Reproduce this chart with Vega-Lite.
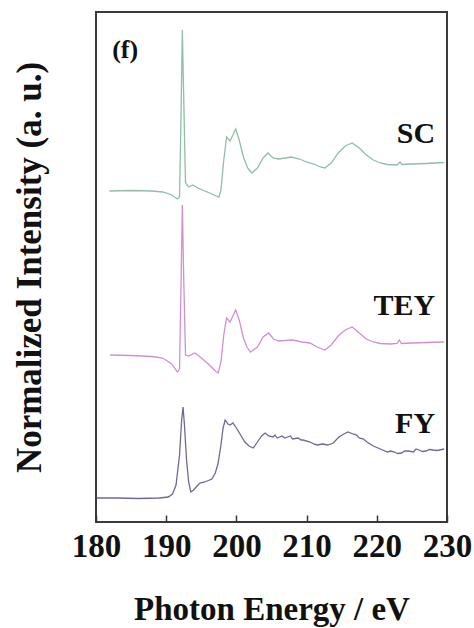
{
  "$schema": "https://vega.github.io/schema/vega-lite/v6.json",
  "width": 351,
  "height": 510,
  "autosize": {"type": "none"},
  "padding": {"left": 96, "top": 12, "right": 27, "bottom": 106},
  "background": "white",
  "config": {
    "view": {"stroke": "#3a3a3a", "strokeWidth": 2},
    "font": "Liberation Serif"
  },
  "datasets": {
    "spectra": [
      {"series": "SC", "energy": 181.9, "intensity": 331},
      {"series": "SC", "energy": 185, "intensity": 331.5},
      {"series": "SC", "energy": 188, "intensity": 331},
      {"series": "SC", "energy": 189.5, "intensity": 330},
      {"series": "SC", "energy": 190.8, "intensity": 327},
      {"series": "SC", "energy": 191.6, "intensity": 323},
      {"series": "SC", "energy": 191.9, "intensity": 325},
      {"series": "SC", "energy": 192.1, "intensity": 402},
      {"series": "SC", "energy": 192.3, "intensity": 492},
      {"series": "SC", "energy": 192.5, "intensity": 422},
      {"series": "SC", "energy": 192.75, "intensity": 339},
      {"series": "SC", "energy": 193.2, "intensity": 335},
      {"series": "SC", "energy": 193.8, "intensity": 337},
      {"series": "SC", "energy": 194.5, "intensity": 334},
      {"series": "SC", "energy": 195.5, "intensity": 331},
      {"series": "SC", "energy": 196.5, "intensity": 328},
      {"series": "SC", "energy": 197.5, "intensity": 325},
      {"series": "SC", "energy": 197.8, "intensity": 332},
      {"series": "SC", "energy": 198.2, "intensity": 362},
      {"series": "SC", "energy": 198.6, "intensity": 385},
      {"series": "SC", "energy": 199.1, "intensity": 381},
      {"series": "SC", "energy": 199.5, "intensity": 387},
      {"series": "SC", "energy": 199.9, "intensity": 393},
      {"series": "SC", "energy": 200.4, "intensity": 382},
      {"series": "SC", "energy": 201, "intensity": 365},
      {"series": "SC", "energy": 201.6, "intensity": 354},
      {"series": "SC", "energy": 202.2, "intensity": 349},
      {"series": "SC", "energy": 203, "intensity": 354},
      {"series": "SC", "energy": 203.8, "intensity": 364},
      {"series": "SC", "energy": 204.5, "intensity": 369},
      {"series": "SC", "energy": 205.2, "intensity": 364},
      {"series": "SC", "energy": 206, "intensity": 363},
      {"series": "SC", "energy": 207, "intensity": 364},
      {"series": "SC", "energy": 207.8, "intensity": 365},
      {"series": "SC", "energy": 209, "intensity": 363},
      {"series": "SC", "energy": 210, "intensity": 360},
      {"series": "SC", "energy": 211, "intensity": 358},
      {"series": "SC", "energy": 212, "intensity": 355},
      {"series": "SC", "energy": 212.6, "intensity": 354},
      {"series": "SC", "energy": 213.5, "intensity": 359},
      {"series": "SC", "energy": 214.5, "intensity": 369},
      {"series": "SC", "energy": 215.5, "intensity": 376},
      {"series": "SC", "energy": 216.5, "intensity": 379},
      {"series": "SC", "energy": 217.5, "intensity": 374},
      {"series": "SC", "energy": 218.5, "intensity": 367},
      {"series": "SC", "energy": 219.5, "intensity": 362},
      {"series": "SC", "energy": 220.5, "intensity": 359},
      {"series": "SC", "energy": 221.5, "intensity": 357.5},
      {"series": "SC", "energy": 222.9, "intensity": 357},
      {"series": "SC", "energy": 223.3, "intensity": 360},
      {"series": "SC", "energy": 223.6, "intensity": 357.5},
      {"series": "SC", "energy": 225, "intensity": 358},
      {"series": "SC", "energy": 227, "intensity": 358.5},
      {"series": "SC", "energy": 229.6, "intensity": 359.5},

      {"series": "TEY", "energy": 182, "intensity": 167},
      {"series": "TEY", "energy": 185, "intensity": 166.5},
      {"series": "TEY", "energy": 188, "intensity": 165.5},
      {"series": "TEY", "energy": 189.5, "intensity": 164},
      {"series": "TEY", "energy": 190.8, "intensity": 158},
      {"series": "TEY", "energy": 191.6, "intensity": 150},
      {"series": "TEY", "energy": 191.9, "intensity": 153},
      {"series": "TEY", "energy": 192.1, "intensity": 232},
      {"series": "TEY", "energy": 192.3, "intensity": 317},
      {"series": "TEY", "energy": 192.5, "intensity": 242},
      {"series": "TEY", "energy": 192.75, "intensity": 167},
      {"series": "TEY", "energy": 193.2, "intensity": 166},
      {"series": "TEY", "energy": 194.1, "intensity": 169},
      {"series": "TEY", "energy": 195, "intensity": 164},
      {"series": "TEY", "energy": 196, "intensity": 158},
      {"series": "TEY", "energy": 197, "intensity": 151},
      {"series": "TEY", "energy": 197.4, "intensity": 149},
      {"series": "TEY", "energy": 197.8, "intensity": 160},
      {"series": "TEY", "energy": 198.2, "intensity": 187},
      {"series": "TEY", "energy": 198.6, "intensity": 204},
      {"series": "TEY", "energy": 199.1, "intensity": 200},
      {"series": "TEY", "energy": 199.5, "intensity": 206},
      {"series": "TEY", "energy": 199.9, "intensity": 212},
      {"series": "TEY", "energy": 200.4, "intensity": 202},
      {"series": "TEY", "energy": 201, "intensity": 184},
      {"series": "TEY", "energy": 201.5, "intensity": 175},
      {"series": "TEY", "energy": 202, "intensity": 170},
      {"series": "TEY", "energy": 203, "intensity": 175},
      {"series": "TEY", "energy": 203.8, "intensity": 185},
      {"series": "TEY", "energy": 204.6, "intensity": 189},
      {"series": "TEY", "energy": 205.3, "intensity": 183},
      {"series": "TEY", "energy": 206, "intensity": 181},
      {"series": "TEY", "energy": 207, "intensity": 181.5},
      {"series": "TEY", "energy": 208, "intensity": 182},
      {"series": "TEY", "energy": 209.3, "intensity": 180},
      {"series": "TEY", "energy": 210.5, "intensity": 179},
      {"series": "TEY", "energy": 211.5, "intensity": 175},
      {"series": "TEY", "energy": 212.6, "intensity": 172},
      {"series": "TEY", "energy": 213.5, "intensity": 177},
      {"series": "TEY", "energy": 214.5, "intensity": 186},
      {"series": "TEY", "energy": 215.5, "intensity": 192},
      {"series": "TEY", "energy": 216.5, "intensity": 195},
      {"series": "TEY", "energy": 217.5, "intensity": 189},
      {"series": "TEY", "energy": 218.5, "intensity": 183},
      {"series": "TEY", "energy": 219.5, "intensity": 180},
      {"series": "TEY", "energy": 220.5, "intensity": 178.5},
      {"series": "TEY", "energy": 222, "intensity": 178},
      {"series": "TEY", "energy": 222.9, "intensity": 178.5},
      {"series": "TEY", "energy": 223.2, "intensity": 182},
      {"series": "TEY", "energy": 223.5, "intensity": 178.5},
      {"series": "TEY", "energy": 225, "intensity": 179},
      {"series": "TEY", "energy": 227, "intensity": 179.5},
      {"series": "TEY", "energy": 229.6, "intensity": 180},

      {"series": "FY", "energy": 180.1, "intensity": 24},
      {"series": "FY", "energy": 183, "intensity": 24},
      {"series": "FY", "energy": 186, "intensity": 23.5},
      {"series": "FY", "energy": 189, "intensity": 24},
      {"series": "FY", "energy": 190.3, "intensity": 25},
      {"series": "FY", "energy": 190.9, "intensity": 28},
      {"series": "FY", "energy": 191.4, "intensity": 37},
      {"series": "FY", "energy": 191.9, "intensity": 67},
      {"series": "FY", "energy": 192.2, "intensity": 102},
      {"series": "FY", "energy": 192.4, "intensity": 115},
      {"series": "FY", "energy": 192.6, "intensity": 97},
      {"series": "FY", "energy": 192.9, "intensity": 62},
      {"series": "FY", "energy": 193.2, "intensity": 40},
      {"series": "FY", "energy": 193.5, "intensity": 30},
      {"series": "FY", "energy": 193.9, "intensity": 32},
      {"series": "FY", "energy": 194.4, "intensity": 36},
      {"series": "FY", "energy": 194.8, "intensity": 39},
      {"series": "FY", "energy": 195.5, "intensity": 40},
      {"series": "FY", "energy": 196.5, "intensity": 43},
      {"series": "FY", "energy": 197, "intensity": 49},
      {"series": "FY", "energy": 197.4, "intensity": 59},
      {"series": "FY", "energy": 197.8, "intensity": 77},
      {"series": "FY", "energy": 198.1, "intensity": 94},
      {"series": "FY", "energy": 198.4, "intensity": 102},
      {"series": "FY", "energy": 198.8, "intensity": 98},
      {"series": "FY", "energy": 199.1, "intensity": 97},
      {"series": "FY", "energy": 199.5, "intensity": 99},
      {"series": "FY", "energy": 200, "intensity": 94},
      {"series": "FY", "energy": 200.6, "intensity": 87},
      {"series": "FY", "energy": 201.2, "intensity": 80},
      {"series": "FY", "energy": 201.8, "intensity": 76},
      {"series": "FY", "energy": 202.4, "intensity": 74},
      {"series": "FY", "energy": 203, "intensity": 80},
      {"series": "FY", "energy": 203.6, "intensity": 86},
      {"series": "FY", "energy": 204.1, "intensity": 89},
      {"series": "FY", "energy": 204.6, "intensity": 86},
      {"series": "FY", "energy": 205.2, "intensity": 85},
      {"series": "FY", "energy": 205.5, "intensity": 87},
      {"series": "FY", "energy": 205.8, "intensity": 84},
      {"series": "FY", "energy": 206.5, "intensity": 86},
      {"series": "FY", "energy": 206.9, "intensity": 84},
      {"series": "FY", "energy": 207.3, "intensity": 85},
      {"series": "FY", "energy": 207.7, "intensity": 86},
      {"series": "FY", "energy": 208, "intensity": 83},
      {"series": "FY", "energy": 208.8, "intensity": 84},
      {"series": "FY", "energy": 209.2, "intensity": 82},
      {"series": "FY", "energy": 209.5, "intensity": 82},
      {"series": "FY", "energy": 210.5, "intensity": 80},
      {"series": "FY", "energy": 211, "intensity": 78},
      {"series": "FY", "energy": 211.5, "intensity": 77},
      {"series": "FY", "energy": 212.3, "intensity": 78},
      {"series": "FY", "energy": 213, "intensity": 77},
      {"series": "FY", "energy": 213.8, "intensity": 79},
      {"series": "FY", "energy": 214.6, "intensity": 85},
      {"series": "FY", "energy": 215.3, "intensity": 88},
      {"series": "FY", "energy": 215.9, "intensity": 90},
      {"series": "FY", "energy": 216.6, "intensity": 88},
      {"series": "FY", "energy": 217.1, "intensity": 87},
      {"series": "FY", "energy": 217.5, "intensity": 84},
      {"series": "FY", "energy": 218.1, "intensity": 83},
      {"series": "FY", "energy": 218.6, "intensity": 80},
      {"series": "FY", "energy": 219.5, "intensity": 76},
      {"series": "FY", "energy": 220.5, "intensity": 73},
      {"series": "FY", "energy": 221.5, "intensity": 70},
      {"series": "FY", "energy": 222, "intensity": 71},
      {"series": "FY", "energy": 222.5, "intensity": 70},
      {"series": "FY", "energy": 223, "intensity": 68.5},
      {"series": "FY", "energy": 223.5, "intensity": 69},
      {"series": "FY", "energy": 224, "intensity": 71},
      {"series": "FY", "energy": 224.5, "intensity": 71},
      {"series": "FY", "energy": 225.2, "intensity": 70},
      {"series": "FY", "energy": 225.6, "intensity": 73},
      {"series": "FY", "energy": 226, "intensity": 72},
      {"series": "FY", "energy": 226.5, "intensity": 70.5},
      {"series": "FY", "energy": 227, "intensity": 71},
      {"series": "FY", "energy": 227.5, "intensity": 72.5},
      {"series": "FY", "energy": 228, "intensity": 72},
      {"series": "FY", "energy": 228.6, "intensity": 71.5},
      {"series": "FY", "energy": 229.6, "intensity": 73}
    ],
    "labels": [
      {"text": "SC", "energy": 228.3, "intensity": 379},
      {"text": "TEY", "energy": 228.3, "intensity": 207},
      {"text": "FY", "energy": 228.3, "intensity": 89}
    ],
    "panel": [
      {"text": "(f)", "energy": 182.3, "intensity": 464}
    ]
  },
  "layer": [
    {
      "data": {"name": "spectra"},
      "mark": {"type": "line", "strokeWidth": 1.3, "interpolate": "linear"},
      "encoding": {
        "x": {
          "field": "energy",
          "type": "quantitative",
          "scale": {"domain": [180, 230], "nice": false, "zero": false},
          "axis": {
            "title": "Photon Energy / eV",
            "values": [180, 190, 200, 210, 220, 230],
            "grid": false,
            "domain": false,
            "tickSize": -7,
            "tickColor": "#333333",
            "tickWidth": 1.5,
            "labelFont": "Liberation Serif",
            "labelFontSize": 33,
            "labelFontWeight": "bold",
            "labelColor": "#111111",
            "labelPadding": 15,
            "labelFlush": false,
            "titleFont": "Liberation Serif",
            "titleFontSize": 33,
            "titleFontWeight": "bold",
            "titleColor": "#111111",
            "titlePadding": 30
          }
        },
        "y": {
          "field": "intensity",
          "type": "quantitative",
          "scale": {"domain": [0, 510], "nice": false, "zero": false},
          "axis": {
            "title": "Normalized Intensity (a. u.)",
            "labels": false,
            "ticks": false,
            "domain": false,
            "grid": false,
            "titleFont": "Liberation Serif",
            "titleFontSize": 35,
            "titleFontWeight": "bold",
            "titleColor": "#111111",
            "titlePadding": 49
          }
        },
        "color": {
          "field": "series",
          "type": "nominal",
          "scale": {"domain": ["SC", "TEY", "FY"], "range": ["#8fbfa6", "#d28fcf", "#6c6a98"]},
          "legend": null
        },
        "detail": {"field": "series"}
      }
    },
    {
      "data": {"name": "labels"},
      "mark": {"type": "text", "align": "right", "baseline": "alphabetic", "font": "Liberation Serif", "fontSize": 30, "fontWeight": "bold", "color": "#111111"},
      "encoding": {
        "x": {"field": "energy", "type": "quantitative"},
        "y": {"field": "intensity", "type": "quantitative"},
        "text": {"field": "text"}
      }
    },
    {
      "data": {"name": "panel"},
      "mark": {"type": "text", "align": "left", "baseline": "alphabetic", "font": "Liberation Serif", "fontSize": 26, "fontWeight": "bold", "color": "#111111"},
      "encoding": {
        "x": {"field": "energy", "type": "quantitative"},
        "y": {"field": "intensity", "type": "quantitative"},
        "text": {"field": "text"}
      }
    }
  ]
}
